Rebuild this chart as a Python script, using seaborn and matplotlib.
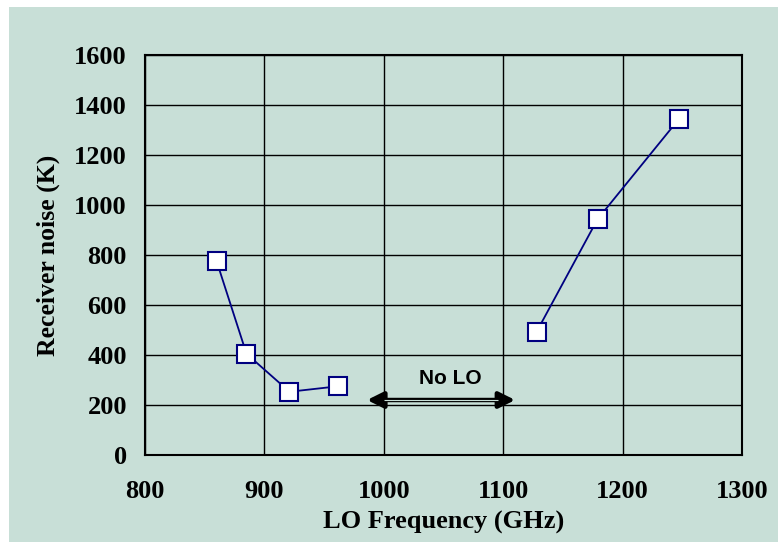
import matplotlib
matplotlib.use("Agg")
import matplotlib.pyplot as plt
from matplotlib.patches import Rectangle
import pandas as pd
import seaborn as sns

# Receiver noise measured below and above the LO gap
freq_low = [860, 885, 921, 962]
noise_low = [775, 405, 253, 275]
freq_high = [1128, 1179, 1247]
noise_high = [493, 943, 1343]

x_ticks = [800, 900, 1000, 1100, 1200, 1300]
y_ticks = [0, 200, 400, 600, 800, 1000, 1200, 1400, 1600]

gap_start, gap_end, gap_level = 986, 1110, 220
gap_label = "No LO"

bg = "#C8DFD7"
navy = "#000080"

sns.set_theme(style="white")
plt.rcParams["font.family"] = ["Liberation Serif", "DejaVu Serif"]
plt.rcParams["text.color"] = "black"
plt.rcParams["axes.labelcolor"] = "black"
plt.rcParams["xtick.color"] = "black"
plt.rcParams["ytick.color"] = "black"

fig = plt.figure(figsize=(7.78, 5.42), dpi=100)
fig.patch.set_facecolor("white")
fig.patches.append(Rectangle((9 / 778, 0), 1 - 9 / 778, 1 - 7 / 542,
                             transform=fig.transFigure, facecolor=bg,
                             edgecolor="none", zorder=-10))

ax = fig.add_axes([145 / 778, 1 - 455 / 542, (742 - 145) / 778, (455 - 55) / 542])
ax.set_facecolor(bg)

marker_kw = dict(marker="s", markersize=12.5, markerfacecolor="white",
                 markeredgecolor=navy, markeredgewidth=1.5,
                 color=navy, linewidth=1.3)
for fx, ny in [(freq_low, noise_low), (freq_high, noise_high)]:
    df = pd.DataFrame({"freq": fx, "noise": ny})
    sns.lineplot(data=df, x="freq", y="noise", ax=ax, estimator=None,
                 sort=False, zorder=5, **marker_kw)

ax.set_xlim(800, 1300)
ax.set_ylim(0, 1600)
ax.set_xticks(x_ticks)
ax.set_yticks(y_ticks)
ax.grid(True, color="black", linewidth=1.0)
ax.set_axisbelow(True)
for s in ax.spines.values():
    s.set_color("black")
    s.set_linewidth(1.5)

ax.tick_params(axis="both", direction="out", length=6, width=1.0,
               color="#444444", labelsize=19, labelcolor="black")
ax.tick_params(axis="y", pad=7)
ax.tick_params(axis="x", pad=12)
for lbl in ax.get_xticklabels() + ax.get_yticklabels():
    lbl.set_fontweight("bold")

ax.set_xlabel("LO Frequency (GHz)", fontsize=19, fontweight="bold", labelpad=6)
ax.set_ylabel("Receiver noise (K)", fontsize=18.5, fontweight="bold", labelpad=10)

# double-headed arrow marking the gap without LO coverage
ax.annotate("", xy=(gap_start, gap_level), xytext=(gap_end, gap_level),
            arrowprops=dict(arrowstyle="<|-|>", color="black", lw=3.2,
                            mutation_scale=24, shrinkA=0, shrinkB=0),
            zorder=6)
ax.plot([gap_start + 14, gap_end - 14], [gap_level, gap_level],
        color=bg, linewidth=0.8, zorder=7, solid_capstyle="butt")
ax.text(1056, 305, gap_label, ha="center", va="center",
        fontsize=15, fontweight="bold", color="black",
        family=["Liberation Sans", "DejaVu Sans"])

fig.savefig("out.png", dpi=100, facecolor=fig.get_facecolor())
